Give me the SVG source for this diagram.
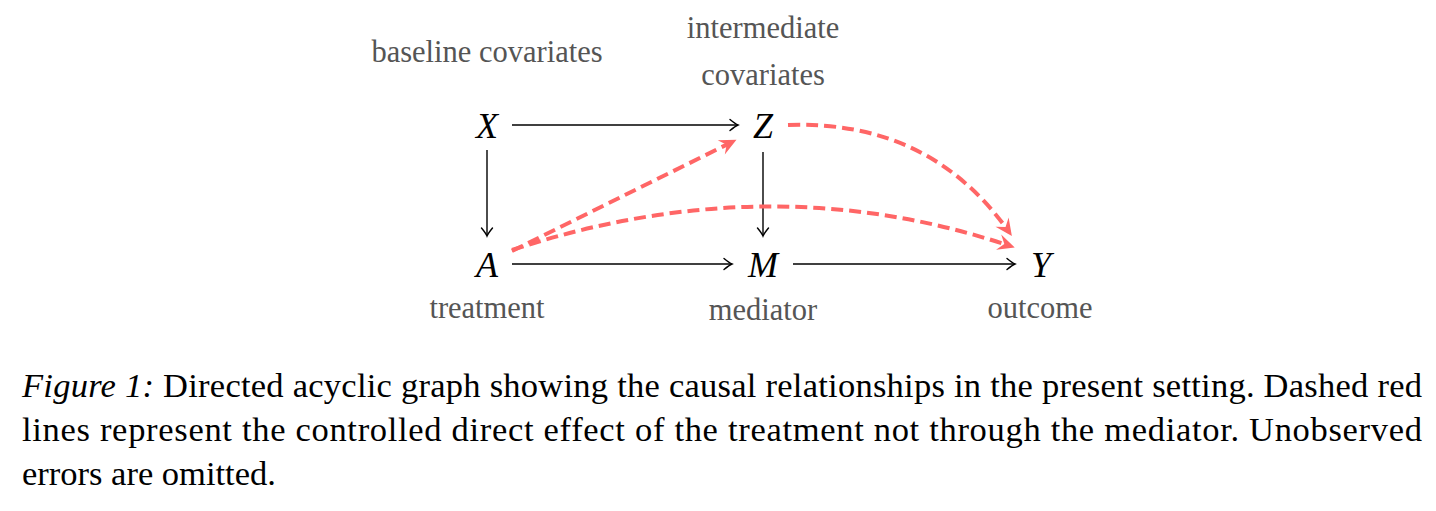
<svg xmlns="http://www.w3.org/2000/svg" width="1436" height="511" viewBox="0 0 1436 511">
<style>
.node{font-family:"Liberation Serif",serif;font-style:italic;font-size:36px;fill:#000;text-anchor:middle}
.lab{font-family:"Liberation Serif",serif;font-size:30.5px;fill:#555;text-anchor:middle}
.cap{font-family:"Liberation Serif",serif;font-size:34.5px;fill:#000}
.blk{stroke:#000;stroke-width:1.4;fill:none;marker-end:url(#ah)}
.red{stroke:#ff6666;stroke-width:4;fill:none;stroke-dasharray:12 6;marker-end:url(#rh)}
</style>
<defs>
<marker id="ah" markerUnits="userSpaceOnUse" markerWidth="20" markerHeight="20" refX="0" refY="0" viewBox="-10 -10 20 20" orient="auto" overflow="visible">
<path d="M-7,-5.5 Q-1.5,-1 1,0 Q-1.5,1 -7,5.5" fill="none" stroke="#000" stroke-width="1.4" stroke-linecap="round"/>
</marker>
<marker id="rh" markerUnits="userSpaceOnUse" markerWidth="30" markerHeight="30" refX="0" refY="0" viewBox="-15 -15 30 30" orient="auto" overflow="visible">
<path d="M5,0 L-12,-8 L-6,0 L-12,8 Z" fill="#ff6666"/>
</marker>
</defs>
<g id="connectors">
<path class="blk" d="M512,125 L737,125"/>
<path class="blk" d="M487,150 L487,235"/>
<path class="blk" d="M763,152 L763,235"/>
<path class="blk" d="M512,264 L731,264"/>
<path class="blk" d="M793,264 L1014,264"/>
<path class="red" d="M512,251 L732,142"/>
<path class="red" d="M512,250 Q770,165 1010,246"/>
<path class="red" d="M788,125 Q930,120 1009,232"/>
</g>
<g id="node-X"><text class="node" x="487" y="138">X</text><text class="lab" x="487" y="62">baseline covariates</text></g>
<g id="node-Z"><text class="node" x="763" y="138">Z</text><text class="lab" x="763" y="38">intermediate</text><text class="lab" x="763" y="85">covariates</text></g>
<g id="node-A"><text class="node" x="487" y="277">A</text><text class="lab" x="487" y="318">treatment</text></g>
<g id="node-M"><text class="node" x="763" y="277">M</text><text class="lab" x="763" y="320">mediator</text></g>
<g id="node-Y"><text class="node" x="1041" y="277">Y</text><text class="lab" x="1040" y="318">outcome</text></g>
<g id="caption">
<text class="cap" x="22" y="397" textLength="1400" lengthAdjust="spacing"><tspan font-style="italic">Figure 1:</tspan> Directed acyclic graph showing the causal relationships in the present setting. Dashed red</text>
<text class="cap" x="22" y="441" textLength="1400" lengthAdjust="spacing">lines represent the controlled direct effect of the treatment not through the mediator. Unobserved</text>
<text class="cap" x="22" y="485">errors are omitted.</text>
</g>
</svg>
